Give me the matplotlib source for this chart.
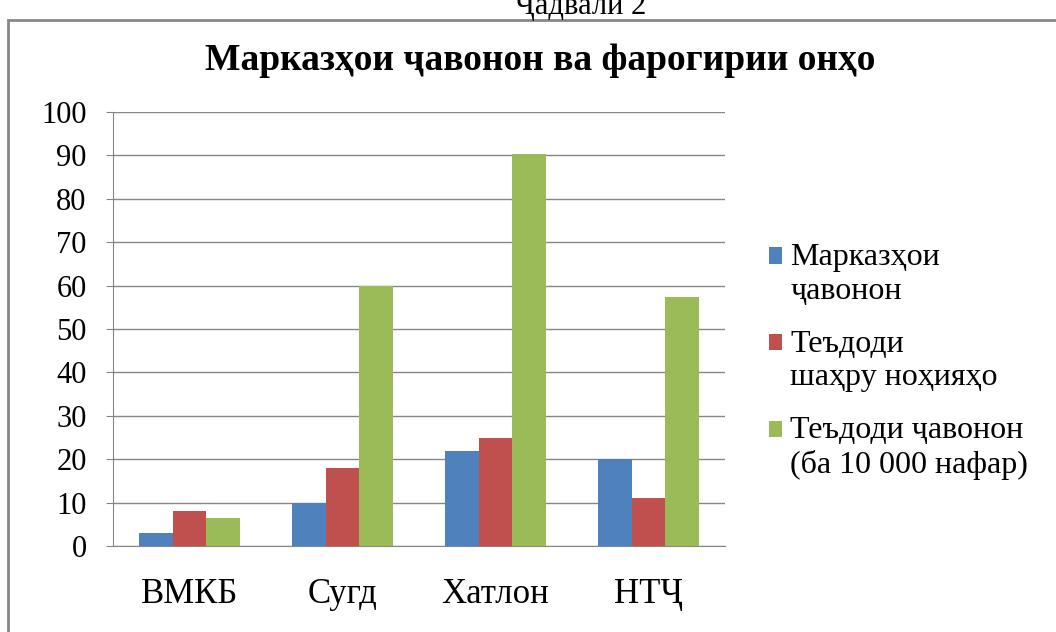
import numpy as np
import matplotlib
matplotlib.use("Agg")
import matplotlib.pyplot as plt
from matplotlib.patches import Rectangle
from matplotlib.container import BarContainer
from matplotlib.legend_handler import HandlerPatch

plt.rcParams['font.family'] = ['Liberation Serif', 'DejaVu Serif']

categories = ['ВМКБ', 'Сугд', 'Хатлон', 'НТҶ']
series_names = ['Марказҳои\nҷавонон', 'Теъдоди\nшаҳру ноҳияҳо', 'Теъдоди ҷавонон\n(ба 10 000 нафар)']
centers = [3, 10, 22, 20]
districts = [8, 18, 25, 11]
youth = [6.5, 60, 90.3, 57.4]
colors = ['#4F81BD', '#C0504D', '#9BBB59']

fig = plt.figure(figsize=(10.56, 6.32), dpi=100)
ax = fig.add_axes([113/1056, 1-546/632, 612/1056, 434/632])

x = np.arange(len(categories))
w = 0.22
for i, (vals, name) in enumerate(zip([centers, districts, youth], series_names)):
    ax.bar(x + (i-1)*w, vals, w, color=colors[i], label=name, zorder=3)

ax.set_xlim(-0.5, len(categories)-0.5)
ax.set_ylim(0, 100)
ax.set_yticks(range(0, 101, 10))
ax.yaxis.grid(True, color='#868686', linewidth=1.0, zorder=0)
ax.set_xticks(x)
ax.set_xticklabels(categories, fontsize=25)
ax.tick_params(axis='x', length=0, pad=23)
ax.tick_params(axis='y', labelsize=22, length=5, color='#868686', pad=14)
for s in ['top', 'right']:
    ax.spines[s].set_visible(False)
for s in ['left', 'bottom']:
    ax.spines[s].set_color('#868686')


# square sits beside the first line of each two-line label
def top_square(legend, orig_handle, xdescent, ydescent, width, height, fontsize):
    return Rectangle((-xdescent, -ydescent + 0.58*fontsize), width, height)


def from_first_bar(tgt, src):
    tgt.update_from(src.patches[0])


leg = fig.legend(loc='center left', bbox_to_anchor=(0.701, 0.428), frameon=False,
                 fontsize=23, handlelength=0.42, handleheight=0.42, handletextpad=0.25,
                 labelspacing=0.75,
                 handler_map={BarContainer: HandlerPatch(patch_func=top_square,
                                                         update_func=from_first_bar)})

fig.text(0.512, 0.905, 'Марказҳои ҷавонон ва фарогирии онҳо', ha='center', va='center',
         fontsize=27, fontweight='bold')
fig.text(0.55, 0.99, 'Ҷадвали 2', ha='center', va='center', fontsize=22)

fig.patches.append(Rectangle((8/1056, -0.1), 1.2, 1.1 - 20/632, transform=fig.transFigure,
                             fill=False, edgecolor='#888888', linewidth=2))

fig.savefig('out.png', dpi=100)
